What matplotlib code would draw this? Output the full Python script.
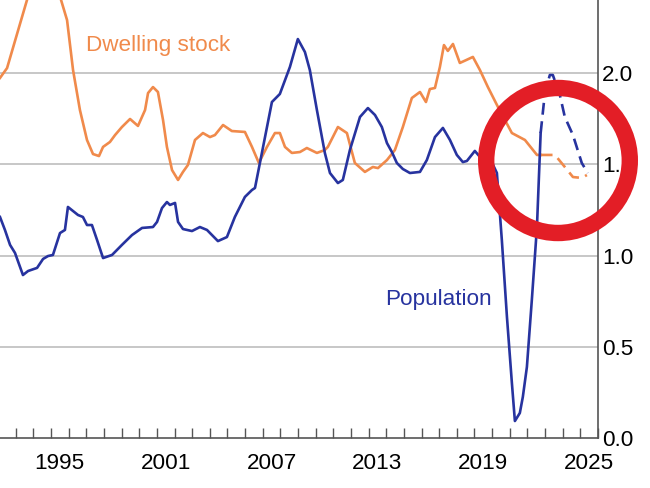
import matplotlib
matplotlib.use("Agg")
import matplotlib.pyplot as plt
import matplotlib.patches as patches
import numpy as np

plt.rcParams['font.family'] = ['Liberation Sans', 'DejaVu Sans']

ORANGE = '#F08A4B'
BLUE = '#27339F'
RED = '#E31E26'

FORECAST_START = 2022.75

# year-ended growth, per cent
dwell_years = [1992.11, 1992.51, 1993.64, 1994.0, 1994.6, 1995.2, 1995.57, 1995.91, 1996.25,
               1996.64, 1997.04, 1997.38, 1997.72, 1997.95, 1998.34, 1998.63, 1999.02, 1999.48,
               1999.93, 2000.33, 2000.50, 2000.78, 2001.06, 2001.35, 2001.57, 2001.86, 2002.20,
               2002.48, 2002.76, 2003.16, 2003.61, 2004.01, 2004.29, 2004.75, 2005.25, 2005.99,
               2006.39, 2006.78, 2007.24, 2007.69, 2007.97, 2008.26, 2008.65, 2009.11, 2009.50,
               2010.07, 2010.52, 2010.69, 2011.26, 2011.77, 2012.22, 2012.79, 2013.24, 2013.53,
               2014.04, 2014.49, 2014.94, 2015.45, 2015.91, 2016.25, 2016.47, 2016.76, 2017.04,
               2017.27, 2017.49, 2017.78, 2018.17, 2018.51, 2018.91, 2019.31, 2019.76, 2020.33,
               2021.12, 2021.86, 2022.54, 2022.75,
               2023.56, 2024.12, 2024.58, 2025.08, 2025.37]
dwell_vals = [1.973, 2.027, 2.40, 2.56, 2.68, 2.58, 2.40, 2.29, 2.016,
              1.797, 1.633, 1.556, 1.545, 1.595, 1.622, 1.660, 1.704, 1.748,
              1.710, 1.797, 1.890, 1.923, 1.896, 1.742, 1.595, 1.468, 1.414,
              1.458, 1.496, 1.633, 1.671, 1.649, 1.660, 1.715, 1.682, 1.677,
              1.595, 1.507, 1.595, 1.671, 1.671, 1.595, 1.562, 1.567, 1.589,
              1.562, 1.578, 1.595, 1.704, 1.671, 1.507, 1.458, 1.485, 1.479,
              1.523, 1.578, 1.704, 1.863, 1.896, 1.841, 1.912, 1.918, 2.033,
              2.153, 2.121, 2.159, 2.055, 2.070, 2.088, 2.016, 1.923, 1.814,
              1.671, 1.633, 1.551, 1.551,
              1.551, 1.485, 1.430, 1.425, 1.441]

pop_years = [1992.11, 1992.39, 1992.68, 1992.96, 1993.41, 1993.70, 1994.21, 1994.55, 1994.83,
             1995.11, 1995.51, 1995.79, 1995.96, 1996.53, 1996.81, 1997.04, 1997.32, 1997.61,
             1997.95, 1998.46, 1999.02, 1999.59, 2000.16, 2000.78, 2001.01, 2001.29, 2001.57,
             2001.74, 2002.03, 2002.20, 2002.48, 2002.99, 2003.44, 2003.84, 2004.46, 2004.97,
             2005.42, 2005.99, 2006.39, 2006.56, 2006.84, 2007.52, 2007.97, 2008.54, 2008.99,
             2009.39, 2009.67, 2010.07, 2010.52, 2010.81, 2011.26, 2011.54, 2011.94, 2012.51,
             2012.96, 2013.36, 2013.75, 2014.04, 2014.32, 2014.60, 2014.94, 2015.34, 2015.91,
             2016.30, 2016.76, 2017.21, 2017.61, 2018.00, 2018.34, 2018.57, 2019.02, 2019.31,
             2019.87, 2020.27, 2020.55, 2020.84, 2021.12, 2021.29, 2021.57, 2021.74, 2021.97,
             2022.25, 2022.54, 2022.75,
             2022.99, 2023.27, 2023.44, 2023.84, 2024.12, 2024.58, 2025.08, 2025.42]
pop_vals = [1.211, 1.140, 1.058, 1.014, 0.893, 0.915, 0.932, 0.981, 0.997,
            1.003, 1.123, 1.140, 1.266, 1.222, 1.211, 1.167, 1.167, 1.085,
            0.986, 1.003, 1.058, 1.112, 1.151, 1.156, 1.184, 1.260, 1.293,
            1.277, 1.288, 1.184, 1.145, 1.134, 1.156, 1.140, 1.079, 1.101,
            1.211, 1.321, 1.359, 1.370, 1.507, 1.841, 1.885, 2.033, 2.186,
            2.115, 2.016, 1.797, 1.562, 1.452, 1.397, 1.414, 1.578, 1.759,
            1.808, 1.770, 1.704, 1.616, 1.567, 1.507, 1.474, 1.452, 1.458,
            1.523, 1.649, 1.699, 1.633, 1.551, 1.512, 1.518, 1.573, 1.540,
            1.534, 1.452, 1.085, 0.663, 0.301, 0.093, 0.137, 0.225, 0.389,
            0.756, 1.156, 1.671,
            1.890, 1.989, 1.989, 1.879, 1.759, 1.660, 1.507, 1.452]

y_ticks = [0.0, 0.5, 1.0, 1.5, 2.0]
year_labels = [1995, 2001, 2007, 2013, 2019, 2025]


def plot_series(ax, years, vals, color):
    years = np.array(years)
    vals = np.array(vals)
    actual = years <= FORECAST_START
    fc = years >= FORECAST_START
    ax.plot(years[actual], vals[actual], color=color, lw=1.9, solid_joinstyle='round', zorder=3)
    ax.plot(years[fc], vals[fc], color=color, lw=1.9, ls=(0, (4.5, 2.5)), zorder=3)


fig = plt.figure(figsize=(6.5, 4.88), dpi=100)
ax = fig.add_axes([0, 50 / 488, 598 / 650, 438 / 488])

plot_series(ax, dwell_years, dwell_vals, ORANGE)
plot_series(ax, pop_years, pop_vals, BLUE)

ax.set_xlim(1992.11, 2026.0)
ax.set_ylim(0, 2.4)

# grid
for v in y_ticks[1:]:
    ax.axhline(v, color='#BDBDBD', lw=1.2, zorder=1)

# x axis: ticks at year boundaries, labels mid-year
ax.set_xticks(np.arange(1993, 2027))
ax.set_xticklabels([])
ax.set_xticks([y + 0.5 for y in year_labels], minor=True)
ax.set_xticklabels([str(y) for y in year_labels], minor=True, fontsize=16.2)
ax.tick_params(axis='x', which='major', direction='in', length=7.5, width=1, color='#555555')
ax.tick_params(axis='x', which='minor', length=0, pad=11)

ax.yaxis.tick_right()
ax.set_yticks(y_ticks)
ax.set_yticklabels(['%.1f' % v for v in y_ticks], fontsize=16.2)
ax.tick_params(axis='y', length=0, pad=3)

for side in ['left', 'top']:
    ax.spines[side].set_visible(False)
for side in ['right', 'bottom']:
    ax.spines[side].set_color('#555555')
    ax.spines[side].set_linewidth(1.2)

ax.text(2001.06, 2.12, 'Dwelling stock', color=ORANGE, fontsize=16.2, ha='center', va='baseline')
ax.text(2016.98, 0.729, 'Population', color=BLUE, fontsize=16.2, ha='center', va='baseline')

# red circle drawn over the chart
ring = patches.Ellipse((558 / 650, 1 - 160.5 / 488), 2 * 71.8 / 650, 2 * 72.5 / 488,
                       transform=fig.transFigure, facecolor='none', edgecolor=RED,
                       lw=11.8, zorder=10)
fig.add_artist(ring)

fig.savefig('out.png', dpi=100)
